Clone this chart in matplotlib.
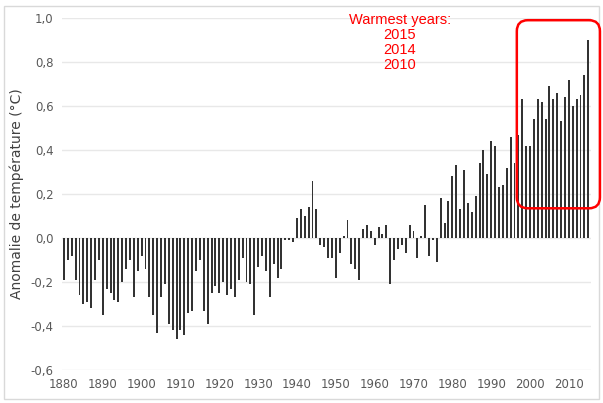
import numpy as np
import matplotlib.pyplot as plt
from matplotlib.patches import FancyBboxPatch, Rectangle
from matplotlib.transforms import IdentityTransform

years = np.arange(1880, 2016)
anomaly = [
    -0.19, -0.10, -0.08, -0.19, -0.26, -0.30, -0.29, -0.32, -0.19, -0.10,
    -0.35, -0.23, -0.25, -0.28, -0.29, -0.20, -0.14, -0.10, -0.27, -0.15,
    -0.08, -0.14, -0.27, -0.35, -0.43, -0.27, -0.21, -0.39, -0.42, -0.46,
    -0.42, -0.44, -0.34, -0.33, -0.15, -0.10, -0.33, -0.39, -0.25, -0.22,
    -0.25, -0.20, -0.26, -0.23, -0.27, -0.19, -0.09, -0.20, -0.21, -0.35,
    -0.13, -0.08, -0.15, -0.27, -0.12, -0.18, -0.14, -0.01, -0.01, -0.02,
    0.09, 0.13, 0.10, 0.14, 0.26, 0.13, -0.03, -0.04, -0.09, -0.09,
    -0.18, -0.07, 0.01, 0.08, -0.12, -0.14, -0.19, 0.04, 0.06, 0.03,
    -0.03, 0.05, 0.02, 0.06, -0.21, -0.10, -0.05, -0.03, -0.07, 0.06,
    0.03, -0.09, 0.01, 0.15, -0.08, -0.01, -0.11, 0.18, 0.07, 0.17,
    0.28, 0.33, 0.13, 0.31, 0.16, 0.12, 0.19, 0.34, 0.40, 0.29,
    0.44, 0.42, 0.23, 0.24, 0.32, 0.46, 0.34, 0.47, 0.63, 0.42,
    0.42, 0.54, 0.63, 0.62, 0.54, 0.69, 0.63, 0.66, 0.53, 0.64,
    0.72, 0.60, 0.63, 0.65, 0.74, 0.90,
]
yticks = [-0.6, -0.4, -0.2, 0.0, 0.2, 0.4, 0.6, 0.8, 1.0]
xticks = list(range(1880, 2011, 10))
# highlighted period (years, anomaly range)
hl_x = (1996.6, 2018.0)
hl_y = (0.135, 0.99)
note = "Warmest years:\n2015\n2014\n2010"

fig = plt.figure(figsize=(6.03, 4.03), dpi=100)
ax = fig.add_axes([62 / 603, 33 / 403, 529 / 603, 352 / 403])

ax.bar(years, anomaly, width=0.5, color="#333333", zorder=2)

ax.set_xlim(1879.5, 2015.7)
ax.set_ylim(-0.6, 1.0)
ax.set_yticks(yticks)
ax.set_yticklabels([f"{v:.1f}".replace(".", ",") for v in yticks])
ax.set_xticks(xticks)
ax.tick_params(length=0, labelsize=8.5, labelcolor="#595959", pad=6)
ax.grid(axis="y", color="#e8e8e8", linewidth=1, zorder=0)
for s in ax.spines.values():
    s.set_visible(False)
ax.set_ylabel("Anomalie de température (°C)", fontsize=10, color="#404040",
              labelpad=5)

# red rounded box around the warmest period
fig.canvas.draw()
(x0, y0) = ax.transData.transform((hl_x[0], hl_y[0]))
(x1, y1) = ax.transData.transform((hl_x[1], hl_y[1]))
box = FancyBboxPatch((x0, y0), x1 - x0, y1 - y0,
                     boxstyle="round,pad=0,rounding_size=11",
                     transform=IdentityTransform(), fill=False,
                     edgecolor="#ff0000", linewidth=1.8, zorder=5)
fig.patches.append(box)
box.set_figure(fig)

fig.text(400 / 603, 1 - 13 / 403, note, ha="center", va="top", color="#ff0000",
         fontsize=10.5, family="Liberation Sans", linespacing=1.1)

# light frame around the whole picture
frame = Rectangle((4 / 603, 4 / 403), 595 / 603, 393 / 403,
                  transform=fig.transFigure, fill=False,
                  edgecolor="#d9d9d9", linewidth=1)
fig.patches.append(frame)
frame.set_figure(fig)

fig.savefig("out.png", dpi=100)
